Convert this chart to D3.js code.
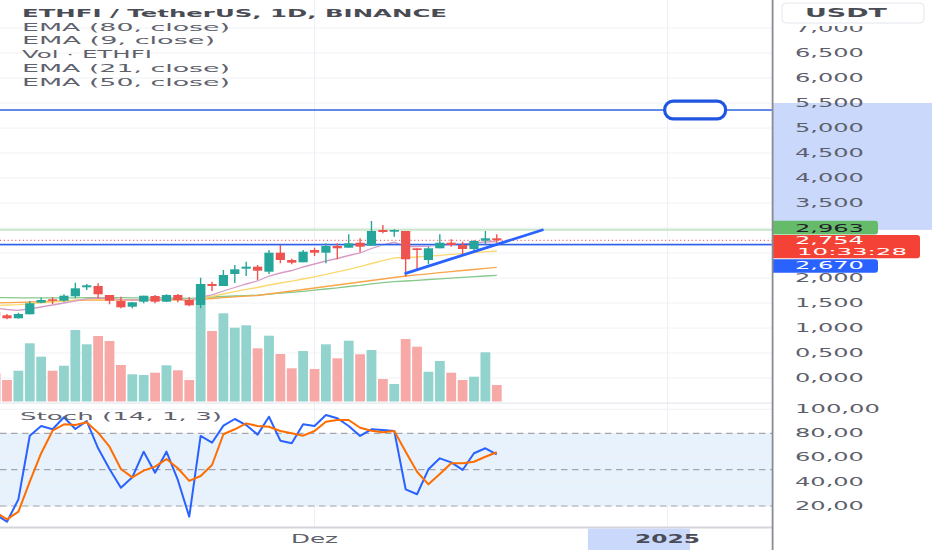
<!DOCTYPE html>
<html><head><meta charset="utf-8">
<script src="https://cdn.jsdelivr.net/npm/d3@7"></script>
<style>html,body{margin:0;padding:0;background:#fff;overflow:hidden}</style>
</head><body>
<svg id="c" width="932" height="550"></svg>
<script>
// ---------------- DATA ----------------
const firstDay = "2024-11-03", lastDay = "2024-12-17";
const opens  = [1.32,1.254,1.194,1.274,1.506,1.574,1.546,1.634,1.814,1.84,1.66,1.54,1.426,1.526,1.64,1.526,1.66,1.56,1.46,1.88,1.84,2.08,2.186,2.226,2.126,2.506,2.36,2.314,2.56,2.506,2.64,2.606,2.706,2.646,2.96,2.926,2.94,2.594,2.36,2.594,2.706,2.66,2.58,2.746,2.794];
const highs  = [1.36,1.28,1.306,1.54,1.606,1.614,1.674,1.906,1.88,1.894,1.66,1.626,1.52,1.646,1.66,1.674,1.68,1.62,2.006,1.926,2.16,2.26,2.326,2.26,2.56,2.66,2.386,2.56,2.606,2.694,2.694,2.874,2.794,3.14,3.06,2.974,2.94,2.594,2.626,2.874,2.774,2.726,2.76,2.94,2.874];
const lows   = [1.2,1.174,1.19,1.274,1.494,1.48,1.526,1.594,1.76,1.594,1.474,1.394,1.394,1.494,1.494,1.52,1.514,1.434,1.394,1.74,1.84,1.9,2.04,1.96,2.08,2.294,2.274,2.314,2.44,2.294,2.374,2.606,2.514,2.646,2.894,2.826,2.026,2.14,2.274,2.594,2.626,2.46,2.514,2.674,2.706];
const closes = [1.24,1.194,1.28,1.494,1.56,1.546,1.646,1.794,1.854,1.674,1.546,1.414,1.514,1.646,1.526,1.66,1.56,1.454,1.88,1.84,2.06,2.174,2.226,2.146,2.506,2.36,2.306,2.526,2.506,2.64,2.594,2.694,2.626,2.94,2.92,2.96,2.374,2.56,2.594,2.706,2.66,2.58,2.74,2.794,2.754];
const volumes = [5.64,4.30,6.16,11.64,8.96,6.16,7.16,14.3,11.44,13.1,12.1,7.3,5.44,5.3,5.76,7.24,6.24,4.3,23.5,14.1,17.64,14.76,15.24,10.64,13.16,9.5,6.64,10.1,6.5,11.44,8.64,12.16,9.44,10.3,4.5,3.5,12.5,10.96,5.96,8.1,5.76,4.3,4.96,9.84,3.3];
const ema80 = [1.606,1.606,1.604,1.602,1.602,1.602,1.602,1.604,1.606,1.608,1.608,1.606,1.604,1.604,1.602,1.600,1.598,1.594,1.604,1.620,1.630,1.640,1.648,1.656,1.678,1.696,1.712,1.734,1.756,1.780,1.802,1.830,1.854,1.884,1.908,1.928,1.940,1.954,1.970,1.982,1.996,2.012,2.026,2.040,2.054];
const ema50 = [1.500,1.508,1.514,1.520,1.528,1.536,1.542,1.550,1.556,1.560,1.560,1.558,1.556,1.558,1.558,1.560,1.560,1.558,1.574,1.590,1.608,1.624,1.636,1.650,1.680,1.710,1.740,1.770,1.800,1.830,1.860,1.890,1.920,1.950,1.980,2.010,2.040,2.062,2.084,2.106,2.128,2.150,2.170,2.192,2.214];
const ema21 = [1.450,1.460,1.468,1.484,1.504,1.520,1.536,1.556,1.572,1.580,1.580,1.572,1.566,1.568,1.566,1.568,1.566,1.556,1.596,1.632,1.680,1.726,1.772,1.810,1.860,1.900,1.936,1.980,2.024,2.074,2.122,2.174,2.228,2.290,2.348,2.402,2.410,2.420,2.436,2.454,2.472,2.488,2.508,2.524,2.540];
const ema9  = [1.400,1.370,1.354,1.380,1.420,1.460,1.500,1.544,1.584,1.600,1.592,1.568,1.560,1.568,1.564,1.572,1.572,1.548,1.616,1.664,1.740,1.810,1.880,1.940,2.040,2.100,2.150,2.220,2.280,2.340,2.390,2.450,2.500,2.590,2.660,2.714,2.630,2.630,2.640,2.660,2.674,2.680,2.700,2.720,2.730];
const stochK = [13,7.0,25.5,78.1,86.1,83.4,93.3,83.6,90.2,67.7,50.6,35.1,43.7,64.9,47.5,64.9,41.5,11.2,77.9,72.3,86.4,91.9,86.9,79,93.8,74.0,71.8,87.5,86.1,95.2,92.5,86.1,77.9,83.4,82.8,82.0,33.8,29.7,50.3,59.4,56.1,49.8,63.6,67.7,62.7];
const stochD = [15,9.0,15.3,40.1,63.6,82.2,87.5,86.9,89.2,80.6,69.0,50.6,43.7,49.2,52.5,58.8,51.2,40.7,44.8,53.9,79.3,83.4,88.3,86.1,85.5,82.0,80.1,78.1,82.0,89.7,91.1,91.1,84.7,82.2,80.9,82.0,64.9,48.3,37.9,46.4,55.3,55.3,56.6,60.7,64.4];
const priceTicks = [0,0.5,1,1.5,2,2.5,3,3.5,4,4.5,5,5.5,6,6.5,7];
const stochTicks = [20,40,60,80,100];
const stochBands = [80,50,20];
const timeTicks = [{date:"2024-12-01", label:"Dez", bold:false},{date:"2025-01-01", label:"2025", bold:true}];
const legendLines = ["ETHFI / TetherUS, 1D, BINANCE","EMA (80, close)","EMA (9, close)","Vol · ETHFI","EMA (21, close)","EMA (50, close)"];
const stochLegend = "Stoch (14, 1, 3)";
const levelHigh = 5.36, levelGreen = 2.963, lastPrice = 2.754, levelBlue = 2.670;
const countdown = "10:33:28";
const axisRangeTop = 5.5;
const trendLine = [{date:"2024-12-09T00:00:00Z", price:2.094},{date:"2024-12-21T00:00:00Z", price:2.96}];
const shapeAnchor = {date:"2025-01-03T10:00:00Z", price:5.36};
const timeHighlight = ["2024-12-25T00:00:00Z","2025-01-02T23:00:00Z"];
const unit = "USDT";

// ---------------- SETUP ----------------
const svg = d3.select("#c");
const FONT = "DejaVu Sans";
const plotR = 772, paneP = [0, 402.5], paneS = [404, 527];
const dates = d3.utcDays(new Date(firstDay+"T00:00:00Z"), d3.utcDay.offset(new Date(lastDay+"T00:00:00Z"),1));
const x = d3.scaleUtc().domain([dates[0], dates[dates.length-1]]).range([-4.39, 496.77]);
const y = d3.scaleLinear().domain([0,7]).range([378,28]);
const yv = d3.scaleLinear().domain([0,d3.max(volumes)]).range([401.5,284]);
const ys = d3.scaleLinear().domain([0,100]).range([530.2,409.2]);
const fmtP = v => d3.format(".3f")(v).replace(".",",");
const fmtS = v => d3.format(".2f")(v).replace(".",",");
const UP="#26a69a", DN="#ef5350", UPV="#93d3cd", DNV="#f7a9a7";

function txtW(s, digit){
  let w=0; for(const ch of s){ if(/[0-9]/.test(ch)) w+=digit; else if(ch===",") w+=digit*0.31; else if(ch===":") w+=digit*0.44; else w+=digit; }
  return w;
}
function text(g, s, px, py, o){
  const t = g.append("text").attr("x",px).attr("y",py).text(s)
    .attr("font-family",FONT).attr("font-size",o.size||11.5).attr("fill",o.fill||"#5d606b")
    .attr("font-weight",o.weight||"normal").attr("text-anchor",o.anchor||"start");
  if(o.len){ t.attr("textLength",o.len).attr("lengthAdjust","spacingAndGlyphs"); }
  return t;
}

const defs = svg.append("defs");
defs.append("clipPath").attr("id","clipP").append("rect").attr("x",0).attr("y",paneP[0]).attr("width",plotR).attr("height",paneP[1]-paneP[0]);
defs.append("clipPath").attr("id","clipS").append("rect").attr("x",0).attr("y",paneS[0]).attr("width",plotR).attr("height",paneS[1]-paneS[0]);
defs.append("clipPath").attr("id","clipA").append("rect").attr("x",773).attr("y",26).attr("width",159).attr("height",500);

svg.append("rect").attr("width",932).attr("height",550).attr("fill","#fff");

// grid
const grid = svg.append("g");
grid.selectAll("line.h").data(priceTicks).join("line")
  .attr("x1",0).attr("x2",plotR).attr("y1",d=>y(d)).attr("y2",d=>y(d))
  .attr("stroke","#f0f2f6").attr("stroke-width",1);
grid.selectAll("line.v").data(timeTicks).join("line")
  .attr("x1",d=>x(new Date(d.date+"T00:00:00Z"))).attr("x2",d=>x(new Date(d.date+"T00:00:00Z")))
  .attr("y1",0).attr("y2",paneS[1]).attr("stroke","#eceff5").attr("stroke-width",1);

// ---------------- PRICE PANE ----------------
const gP = svg.append("g").attr("clip-path","url(#clipP)");
const bars = dates.map((d,i)=>({d,o:opens[i],h:highs[i],l:lows[i],c:closes[i],v:volumes[i]}));
gP.selectAll("rect.vol").data(bars).join("rect")
  .attr("x",d=>x(d.d)-4.9).attr("width",9.8)
  .attr("y",d=>yv(d.v)).attr("height",d=>yv(0)-yv(d.v))
  .attr("fill",d=>d.c>=d.o?UPV:DNV);

const line = arr => d3.line().x((v,i)=>x(dates[i])).y(v=>y(v))(arr);
[[ema80,"#86c98a"],[ema50,"#f9a64a"],[ema21,"#fbd96e"],[ema9,"#d79bc6"]].forEach(([arr,col])=>{
  gP.append("path").attr("d",line(arr)).attr("fill","none").attr("stroke",col).attr("stroke-width",1.3);
});

// levels
gP.append("line").attr("x1",0).attr("x2",plotR).attr("y1",y(levelGreen)).attr("y2",y(levelGreen)).attr("stroke","#c9e6cb").attr("stroke-width",2);
gP.append("line").attr("x1",0).attr("x2",plotR).attr("y1",y(lastPrice)).attr("y2",y(lastPrice)).attr("stroke","#ef5350").attr("stroke-width",1).attr("stroke-dasharray","1.2,2.6");
gP.append("line").attr("x1",0).attr("x2",plotR).attr("y1",y(levelBlue)+0.8).attr("y2",y(levelBlue)+0.8).attr("stroke","#c5d3f7").attr("stroke-width",1);
gP.append("line").attr("x1",0).attr("x2",plotR).attr("y1",y(levelBlue)).attr("y2",y(levelBlue)).attr("stroke","#2f62e6").attr("stroke-width",1.5);
gP.append("line").attr("x1",0).attr("x2",plotR).attr("y1",y(levelHigh)).attr("y2",y(levelHigh)).attr("stroke","#2f62e6").attr("stroke-width",1.5);

// candles
gP.selectAll("line.wick").data(bars).join("line")
  .attr("x1",d=>x(d.d)).attr("x2",d=>x(d.d)).attr("y1",d=>y(d.h)).attr("y2",d=>y(d.l))
  .attr("stroke",d=>d.c>=d.o?UP:DN).attr("stroke-width",1.4);
gP.selectAll("rect.body").data(bars).join("rect")
  .attr("x",d=>x(d.d)-4.6).attr("width",9.2)
  .attr("y",d=>y(Math.max(d.o,d.c))).attr("height",d=>Math.max(1.5,Math.abs(y(d.o)-y(d.c))))
  .attr("fill",d=>d.c>=d.o?UP:DN);

// trend line
gP.append("line")
  .attr("x1",x(new Date(trendLine[0].date))).attr("y1",y(trendLine[0].price))
  .attr("x2",x(new Date(trendLine[1].date))).attr("y2",y(trendLine[1].price))
  .attr("stroke","#2962ff").attr("stroke-width",2.8).attr("stroke-linecap","round");

// drawn rounded shape
const sx = x(new Date(shapeAnchor.date)), sy = y(shapeAnchor.price);
gP.append("rect").attr("x",sx-30.5).attr("y",sy-8.8).attr("width",61).attr("height",17.6).attr("rx",8.5).attr("ry",8.5)
  .attr("fill","#fff").attr("stroke","#1f55e0").attr("stroke-width",3.2);

// legend
legendLines.forEach((s,i)=>{
  const lens=[425,208,193,130,208,208];
  text(svg, s, 22, 16.6+i*13.9, {size:10.6, weight:i===0?"bold":"normal", fill:i===0?"#4a4c55":"#5f626c", len:lens[i]});
});

// ---------------- STOCH PANE ----------------
const gS = svg.append("g").attr("clip-path","url(#clipS)");
gS.append("rect").attr("x",0).attr("width",plotR).attr("y",ys(80)).attr("height",ys(20)-ys(80)).attr("fill","#e8f2fd");
gS.selectAll("line.sg").data(stochTicks).join("line")
  .attr("x1",0).attr("x2",plotR).attr("y1",d=>ys(d)).attr("y2",d=>ys(d)).attr("stroke","#eef0f4");
gS.selectAll("line.band").data(stochBands).join("line")
  .attr("x1",0).attr("x2",plotR).attr("y1",d=>ys(d)).attr("y2",d=>ys(d))
  .attr("stroke","#a3a6ae").attr("stroke-width",1.2).attr("stroke-dasharray","6.5,4.5");
const sline = arr => d3.line().x((v,i)=>x(dates[i])).y(v=>ys(v))(arr);
gS.append("path").attr("d",sline(stochK)).attr("fill","none").attr("stroke","#2962ff").attr("stroke-width",2).attr("stroke-linejoin","round");
gS.append("path").attr("d",sline(stochD)).attr("fill","none").attr("stroke","#ff6d00").attr("stroke-width",2).attr("stroke-linejoin","round");
text(svg, stochLegend, 20, 420.3, {size:10.6, fill:"#5f626c", len:202});

// separators
svg.append("line").attr("x1",0).attr("x2",932).attr("y1",403.2).attr("y2",403.2).attr("stroke","#e6e8ee").attr("stroke-width",1.2);
svg.append("line").attr("x1",0).attr("x2",932).attr("y1",527.6).attr("y2",527.6).attr("stroke","#d3d5db").attr("stroke-width",2);

// ---------------- TIME AXIS ----------------
svg.append("rect").attr("x",x(new Date(timeHighlight[0]))).attr("width",x(new Date(timeHighlight[1]))-x(new Date(timeHighlight[0])))
  .attr("y",528.6).attr("height",21.4).attr("fill","#c9d8fb");
timeTicks.forEach(t=>{
  const tx = x(new Date(t.date+"T00:00:00Z"));
  text(svg, t.label, tx, 543.3, {size:11.5, anchor:"middle", weight:t.bold?"bold":"normal", fill:t.bold?"#4a4c55":"#5d606b", len:t.bold?65:47});
});

// ---------------- PRICE AXIS ----------------
const gA = svg.append("g");
gA.append("rect").attr("x",773).attr("y",0).attr("width",159).attr("height",550).attr("fill","#fff");
gA.append("rect").attr("x",773).attr("y",y(axisRangeTop)).attr("width",159).attr("height",y(levelGreen)-y(axisRangeTop)).attr("fill","#c9d8fb");
// price-label zones (ticks hidden behind them are not drawn)
const labelZones = [[y(levelGreen)-9, y(levelGreen)+4.6],[y(lastPrice)-5.3, y(lastPrice)+18],[y(levelBlue)+14.8, y(levelBlue)+28.2]];
const gTicks = gA.append("g").attr("clip-path","url(#clipA)");
priceTicks.filter(v=>!labelZones.some(z=>y(v)+4>z[0] && y(v)-4<z[1])).forEach(v=>{
  const s=fmtP(v); text(gTicks, s, 795, y(v)+3.8, {size:11.5, len:txtW(s,16)});
});
stochTicks.forEach(v=>{ const s=fmtS(v); text(gA, s, 795, ys(v)+3.8, {size:11.5, len:txtW(s,16)}); });

// price labels
function plabel(top,h,w,fill){ gA.append("path").attr("d",`M773,${top}h${w-3}a3,3 0 0 1 3,3v${h-6}a3,3 0 0 1 -3,3h-${w-3}z`).attr("fill",fill); }
plabel(y(levelGreen)-9, 13.6, 105, "#66bb6a");
text(gA, fmtP(levelGreen), 795, y(levelGreen)+1.9, {size:11, fill:"#1e2128", len:txtW(fmtP(levelGreen),16)});
plabel(y(lastPrice)-5.3, 23.3, 147, "#f44336");
text(gA, fmtP(lastPrice), 795, y(lastPrice)+3.9, {size:10, fill:"#fff", len:txtW(fmtP(lastPrice),16)});
text(gA, countdown, 797, y(lastPrice)+15, {size:8.8, fill:"#fff", len:110});
plabel(y(levelBlue)+14.8, 13.4, 105, "#2962ff");
text(gA, fmtP(levelBlue), 795, y(levelBlue)+24.8, {size:11, fill:"#fff", len:txtW(fmtP(levelBlue),16)});

// unit box
gA.append("rect").attr("x",782).attr("y",3).attr("width",142).attr("height",20).attr("rx",4).attr("fill","#fff").attr("stroke","#e3e6ec").attr("stroke-width",1);
text(gA, unit, 846, 17.4, {size:12.4, weight:"bold", fill:"#4a4c55", anchor:"middle", len:82});

// right divider
svg.append("line").attr("x1",772.6).attr("x2",772.6).attr("y1",0).attr("y2",550).attr("stroke","#888b94").attr("stroke-width",1.8);
</script>
</body></html>
